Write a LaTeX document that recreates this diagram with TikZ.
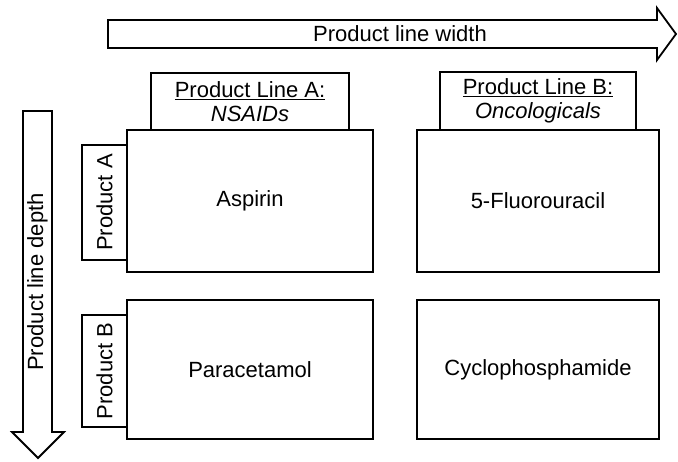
\documentclass[tikz,border=0pt]{standalone}
\usepackage{fontspec}
\setmainfont{Liberation Sans}
\begin{document}
\begin{tikzpicture}[x=1pt,y=-1pt, line width=1.8pt,
  box/.style={draw, rectangle, inner sep=0pt, fill=white, font=\fontsize{22}{25}\selectfont, align=center},
  lbl/.style={inner sep=0pt, font=\fontsize{22}{25}\selectfont, align=center}]
\useasboundingbox (0,0) rectangle (678,461);
% top arrow
\draw (108,20) -- (657,20) -- (657,8) -- (676,34) -- (657,60) -- (657,48) -- (108,48) -- cycle;
\node[lbl] (widthlbl) at (400,34) {Product line width};
% depth arrow
\draw (23,111) -- (52,111) -- (52,432) -- (64,432) -- (38,458) -- (12,432) -- (23,432) -- cycle;
\node[lbl, rotate=90] (depthlbl) at (37.5,282) {Product line depth};
% headers
\node[box, minimum width=198pt, minimum height=57pt] (hA) at (250,101.5) {\underline{Product Line A:}\\[-1pt]\textit{NSAIDs}};
\node[box, minimum width=196pt, minimum height=58pt] (hB) at (538,101) {\underline{Product Line B:}\\[-1pt]\textit{Oncologicals}};
% tabs
\node[box, rotate=90, minimum width=115pt, minimum height=45pt] (tA) at (104.5,202.5) {Product A};
\node[box, rotate=90, minimum width=112pt, minimum height=45pt] (tB) at (104.5,371) {Product B};
% main boxes
\node[box, minimum width=246pt, minimum height=142pt] (aspirin) at (250,201) {Aspirin};
\node[box, minimum width=242pt, minimum height=142pt] (fu) at (538,201) {5-Fluorouracil};
\node[box, minimum width=246pt, minimum height=139pt] (para) at (250,369.5) {Paracetamol};
\node[box, minimum width=242pt, minimum height=139pt] (cyclo) at (538,369.5) {Cyclophosphamide};
\end{tikzpicture}
\end{document}
